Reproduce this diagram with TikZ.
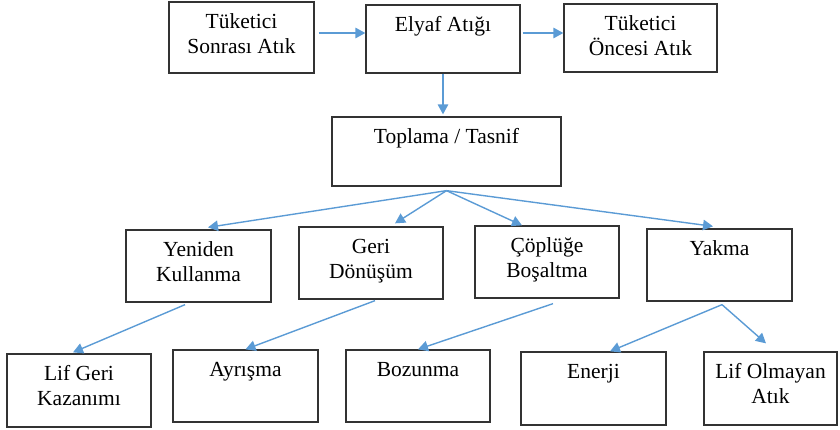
\documentclass[tikz,border=0pt]{standalone}
\usepackage{fontspec}
\setmainfont{Liberation Serif}
\usetikzlibrary{arrows.meta,calc}
\definecolor{arrowblue}{HTML}{5B9BD5}
\definecolor{boxline}{HTML}{333333}
\newcommand\fstrut{\rule{0pt}{20pt}}
\begin{document}
\begin{tikzpicture}[x=1pt,y=-1pt,
  box/.style={draw=boxline,line width=1.3pt,fill=white,inner sep=0pt,rectangle},
  label/.style={anchor=north,inner sep=0pt,align=center,font=\fontsize{21.5}{24.5}\selectfont},
  arr/.style={draw=arrowblue,line width=1.4pt,-{Triangle[length=10pt,width=10.5pt]}}]
\useasboundingbox (0,0) rectangle (840,430);

% boxes
\node[box,minimum width=145pt,minimum height=71pt] (tsa) at (241.5,37.5) {};
\node[box,minimum width=154pt,minimum height=68pt] (ely) at (443,39) {};
\node[box,minimum width=153pt,minimum height=68pt] (toa) at (640.5,38) {};
\node[box,minimum width=229pt,minimum height=69pt] (top) at (446.5,151.5) {};
\node[box,minimum width=145pt,minimum height=72pt] (yen) at (198.5,266) {};
\node[box,minimum width=144pt,minimum height=72pt] (ger) at (371,263) {};
\node[box,minimum width=144pt,minimum height=72pt] (cop) at (547,262) {};
\node[box,minimum width=145pt,minimum height=72pt] (yak) at (719.5,265) {};
\node[box,minimum width=144pt,minimum height=73pt] (lif) at (79,390.5) {};
\node[box,minimum width=145pt,minimum height=72pt] (ayr) at (245.5,386) {};
\node[box,minimum width=144pt,minimum height=72pt] (boz) at (418,386) {};
\node[box,minimum width=145pt,minimum height=73pt] (ene) at (593.5,388.5) {};
\node[box,minimum width=133pt,minimum height=73pt] (loa) at (770.5,388.5) {};

% texts
\node[label] (tsa-t) at ([yshift=-7pt]tsa.north) {\fstrut Tüketici\\Sonrası Atık};
\node[label] (ely-t) at ([yshift=-7pt]ely.north) {\fstrut Elyaf Atığı};
\node[label] (toa-t) at ([yshift=-7pt]toa.north) {\fstrut Tüketici\\Öncesi Atık};
\node[label] (top-t) at ([yshift=-7pt]top.north) {\fstrut Toplama / Tasnif};
\node[label] (yen-t) at ([yshift=-7pt]yen.north) {\fstrut Yeniden\\Kullanma};
\node[label] (ger-t) at ([yshift=-7pt]ger.north) {\fstrut Geri\\Dönüşüm};
\node[label] (cop-t) at ([yshift=-7pt]cop.north) {\fstrut Çöplüğe\\Boşaltma};
\node[label] (yak-t) at ([yshift=-7pt]yak.north) {\fstrut Yakma};
\node[label] (lif-t) at ([yshift=-7pt]lif.north) {\fstrut Lif Geri\\Kazanımı};
\node[label] (ayr-t) at ([yshift=-7pt]ayr.north) {\fstrut Ayrışma};
\node[label] (boz-t) at ([yshift=-7pt]boz.north) {\fstrut Bozunma};
\node[label] (ene-t) at ([yshift=-7pt]ene.north) {\fstrut Enerji};
\node[label] (loa-t) at ([yshift=-7pt]loa.north) {\fstrut Lif Olmayan\\Atık};

% top arrows
\draw[arr] ([xshift=4pt,yshift=4.5pt]tsa.east) -- ([yshift=4.5pt]tsa.east -| ely.west);
\draw[arr] ([xshift=2pt,yshift=6pt]ely.east) -- ([yshift=6pt]ely.east -| toa.west);
\draw[arr] (ely.south) -- ([yshift=2pt]ely.south |- top.north);

% fan from Toplama
\coordinate (fan) at ([yshift=-4pt]top.south);
\draw[arr] (fan) -- ([xshift=9.5pt,yshift=2pt]yen.north);
\draw[arr] (fan) -- ([xshift=24pt,yshift=3pt]ger.north);
\draw[arr] (fan) -- ([xshift=-25pt]cop.north);
\draw[arr] (fan) -- ([xshift=-6.5pt,yshift=2pt]yak.north);

% bottom arrows
\draw[arr] ([xshift=-13.5pt,yshift=-2pt]yen.south) -- ([xshift=-6pt,yshift=1pt]lif.north);
\draw[arr] ([xshift=4pt,yshift=-1pt]ger.south) -- (ayr.north);
\draw[arr] ([xshift=6pt,yshift=-5pt]cop.south) -- (boz.north);
\coordinate (yfan) at ([xshift=2.5pt,yshift=-3pt]yak.south);
\draw[arr] (yfan) -- ([xshift=16.5pt]ene.north);
\draw[arr] (yfan) -- ([xshift=-4.5pt,yshift=8pt]loa.north);
\end{tikzpicture}
\end{document}
